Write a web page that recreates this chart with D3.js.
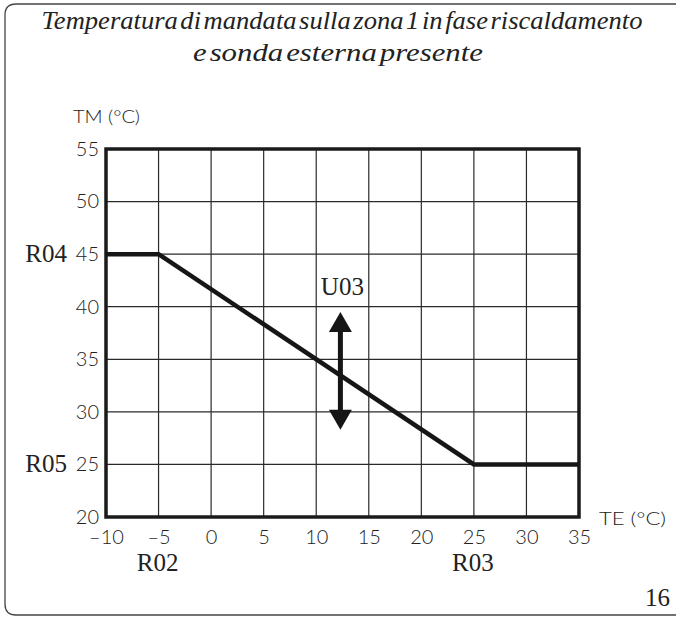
<!DOCTYPE html>
<html>
<head>
<meta charset="utf-8">
<script src="https://cdn.jsdelivr.net/npm/d3@7"></script>
<style>
  html, body { margin: 0; padding: 0; background: #fff; }
  svg { display: block; }
</style>
</head>
<body>
<svg id="chart" width="677" height="617"></svg>
<script>
// ---- data ----
const titleLines = ["Temperatura di mandata sulla zona 1 in fase riscaldamento", "e sonda esterna presente"];
const xTicks = [-10, -5, 0, 5, 10, 15, 20, 25, 30, 35];
const yTicks = [20, 25, 30, 35, 40, 45, 50, 55];
const curveTE = [-10, -5, 25, 35];
const curveTM = [45, 45, 25, 25];
const arrowTE = [12.3, 12.3];
const arrowTM = [28.3, 39.5];
const yParamLabels = ["R04", "R05"];
const yParamValues = [45, 25];
const xParamLabels = ["R02", "R03"];
const xParamValues = [-5, 25];
const arrowLabel = "U03";
const xAxisTitle = "TE (°C)";
const yAxisTitle = "TM (°C)";
const pageNumber = "16";

// ---- layout ----
const svg = d3.select("#chart");
const x = d3.scaleLinear().domain([-10, 35]).range([106, 579]);
const y = d3.scaleLinear().domain([20, 55]).range([517, 149]);

const tickFont = '"Lato", "Roboto", sans-serif';
const tickWeight = 300;
const serif = '"Liberation Serif", "Times New Roman", serif';

// border frame
svg.append("path")
  .attr("d", "M676,4 H16 Q5,4 5,15 V604 Q5,615 16,615 H676")
  .attr("fill", "none").attr("stroke", "#444").attr("stroke-width", 1.3);

// title
const tl = [{t: titleLines[0], x: 342, y: 29, len: 601}, {t: titleLines[1], x: 338, y: 61, len: 290}];
svg.selectAll("text.title").data(tl).enter().append("text")
  .attr("class", "title")
  .attr("x", d => d.x).attr("y", d => d.y)
  .attr("text-anchor", "middle")
  .attr("textLength", d => d.len)
  .attr("lengthAdjust", "spacingAndGlyphs")
  .style("font-family", serif).style("font-style", "italic")
  .style("font-size", "26px").style("word-spacing", "-4px").style("fill", "#222")
  .text(d => d.t);

// grid
const g = svg.append("g");
g.selectAll("line.vg").data(xTicks.slice(1, -1)).enter().append("line")
  .attr("x1", d => x(d)).attr("x2", d => x(d))
  .attr("y1", y(55)).attr("y2", y(20))
  .attr("stroke", "#2a2a2a").attr("stroke-width", 1.2);
g.selectAll("line.hg").data(yTicks.slice(1, -1)).enter().append("line")
  .attr("y1", d => y(d)).attr("y2", d => y(d))
  .attr("x1", x(-10)).attr("x2", x(35))
  .attr("stroke", "#2a2a2a").attr("stroke-width", 1.2);

// frame
g.append("rect")
  .attr("x", x(-10)).attr("y", y(55))
  .attr("width", x(35) - x(-10)).attr("height", y(20) - y(55))
  .attr("fill", "none").attr("stroke", "#1a1a1a").attr("stroke-width", 3.5);

// axes tick labels via d3 axes
const xAxis = d3.axisBottom(x).tickValues(xTicks).tickSize(0).tickPadding(13)
  .tickFormat(d => d < 0 ? "\u2013" + Math.abs(d) : d);
const yAxis = d3.axisLeft(y).tickValues(yTicks).tickSize(0).tickPadding(7);
const xa = svg.append("g").attr("transform", `translate(0,${y(20)})`).call(xAxis);
const ya = svg.append("g").attr("transform", `translate(${x(-10)},0)`).call(yAxis);
[xa, ya].forEach(a => {
  a.select(".domain").remove();
  a.selectAll("text").style("font-family", tickFont).style("font-weight", tickWeight)
    .style("font-size", "20px").attr("fill", "#222");
});

// axis titles
svg.append("text").attr("x", 73).attr("y", 123).text(yAxisTitle)
  .style("font-family", tickFont).style("font-weight", tickWeight).style("font-size", "18px")
  .attr("fill", "#222").attr("textLength", 67).attr("lengthAdjust", "spacingAndGlyphs");
svg.append("text").attr("x", 599).attr("y", 525).text(xAxisTitle)
  .style("font-family", tickFont).style("font-weight", tickWeight).style("font-size", "18px")
  .attr("fill", "#222").attr("textLength", 67).attr("lengthAdjust", "spacingAndGlyphs");

// curve
const line = d3.line().x(d => x(d[0])).y(d => y(d[1]));
svg.append("path")
  .datum(curveTE.map((t, i) => [t, curveTM[i]]))
  .attr("d", line)
  .attr("fill", "none").attr("stroke", "#161616").attr("stroke-width", 4.5)
  .attr("stroke-linejoin", "miter");

// double arrow
const ax = x(arrowTE[0]);
const yTop = y(arrowTM[1]), yBot = y(arrowTM[0]);
const headH = 20, headW = 23;
svg.append("line")
  .attr("x1", ax).attr("x2", ax).attr("y1", yTop + headH - 2).attr("y2", yBot - headH + 2)
  .attr("stroke", "#161616").attr("stroke-width", 5);
svg.append("path")
  .attr("d", `M${ax},${yTop} L${ax + headW / 2},${yTop + headH} L${ax - headW / 2},${yTop + headH} Z`)
  .attr("fill", "#161616");
svg.append("path")
  .attr("d", `M${ax},${yBot} L${ax + headW / 2},${yBot - headH} L${ax - headW / 2},${yBot - headH} Z`)
  .attr("fill", "#161616");
svg.append("text").attr("x", ax + 2).attr("y", yTop - 17).attr("text-anchor", "middle")
  .style("font-family", serif).style("font-size", "25px").attr("fill", "#222").text(arrowLabel);

// parameter labels
svg.selectAll("text.yp").data(yParamLabels).enter().append("text")
  .attr("x", 67).attr("y", (d, i) => y(yParamValues[i]) + 8)
  .attr("text-anchor", "end")
  .style("font-family", serif).style("font-size", "25px").attr("fill", "#222")
  .text(d => d);
svg.selectAll("text.xp").data(xParamLabels).enter().append("text")
  .attr("x", (d, i) => x(xParamValues[i]) - 1).attr("y", 571)
  .attr("text-anchor", "middle")
  .style("font-family", serif).style("font-size", "25px").attr("fill", "#222")
  .text(d => d);

// page number
svg.append("text").attr("x", 670).attr("y", 606).attr("text-anchor", "end")
  .style("font-family", serif).style("font-size", "25px").attr("fill", "#222").text(pageNumber);
</script>
</body>
</html>
